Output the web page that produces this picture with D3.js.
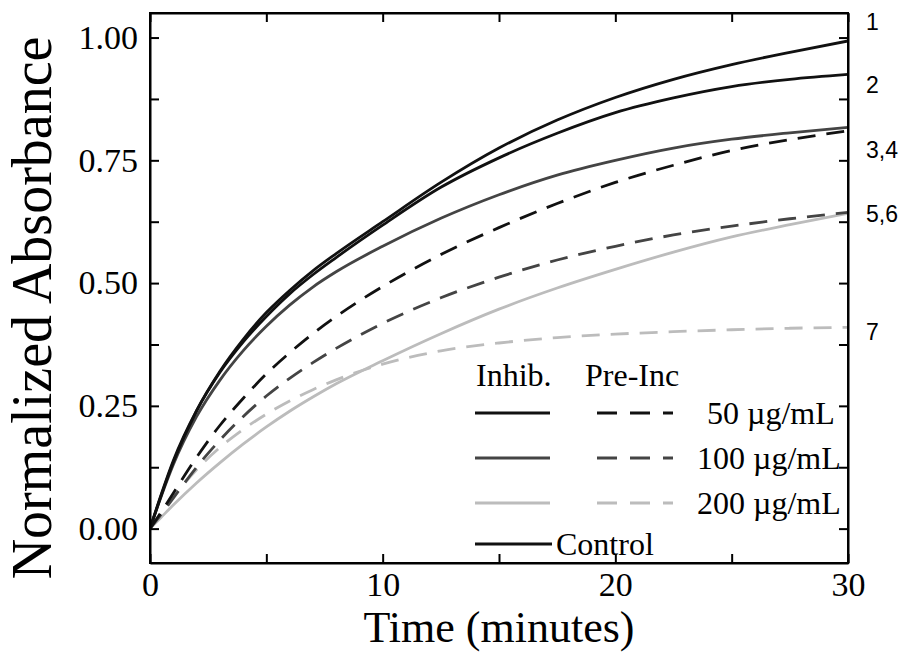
<!DOCTYPE html>
<html>
<head>
<meta charset="utf-8">
<script src="https://cdn.jsdelivr.net/npm/d3@7"></script>
<style>
  html, body { margin: 0; padding: 0; background: #fff; }
  svg { display: block; }
</style>
</head>
<body>
<svg id="chart" width="914" height="664"></svg>
<script>
// Sampling times (minutes)
const timeMin = [0, 0.5, 1, 2, 3, 4, 5, 6, 7, 8, 10, 12.5, 15, 17.5, 20, 22.5, 25, 27.5, 30];

// Normalized absorbance for each condition
const control   = [0, 0.07, 0.135, 0.24, 0.32, 0.385, 0.44, 0.485, 0.525, 0.56, 0.625, 0.705, 0.775, 0.832, 0.878, 0.915, 0.945, 0.97, 0.993];
const inhib50   = [0, 0.072, 0.138, 0.24, 0.318, 0.38, 0.432, 0.478, 0.517, 0.552, 0.618, 0.695, 0.755, 0.805, 0.847, 0.877, 0.90, 0.915, 0.925];
const inhib100  = [0, 0.068, 0.13, 0.228, 0.302, 0.362, 0.412, 0.455, 0.492, 0.523, 0.575, 0.632, 0.68, 0.72, 0.75, 0.775, 0.793, 0.806, 0.817];
const preInc50  = [0, 0.035, 0.072, 0.145, 0.21, 0.265, 0.315, 0.358, 0.397, 0.432, 0.493, 0.558, 0.613, 0.662, 0.705, 0.74, 0.77, 0.792, 0.81];
const preInc100 = [0, 0.03, 0.062, 0.125, 0.18, 0.228, 0.27, 0.306, 0.338, 0.367, 0.418, 0.47, 0.512, 0.547, 0.575, 0.598, 0.616, 0.631, 0.644];
const inhib200  = [0, 0.024, 0.048, 0.093, 0.134, 0.172, 0.207, 0.239, 0.268, 0.295, 0.342, 0.397, 0.447, 0.49, 0.528, 0.563, 0.594, 0.619, 0.642];
const preInc200 = [0, 0.033, 0.064, 0.12, 0.165, 0.202, 0.233, 0.26, 0.283, 0.303, 0.335, 0.362, 0.378, 0.389, 0.396, 0.401, 0.405, 0.408, 0.41];

// Axis ticks
const xTickValues = [0, 5, 10, 15, 20, 25, 30];
const xTickLabels = ["0", "", "10", "", "20", "", "30"];
const yTickValues = [0, 0.125, 0.25, 0.375, 0.5, 0.625, 0.75, 0.875, 1.0];
const yTickLabels = ["0.00", "", "0.25", "", "0.50", "", "0.75", "", "1.00"];

// Curve numbers shown at the right edge
const curveNumbers = ["1", "2", "3,4", "5,6", "7"];
const curveNumberY = [22, 85, 150, 214, 332];

// Legend rows
const concLabels = ["50 \u00b5g/mL", "100 \u00b5g/mL", "200 \u00b5g/mL"];
const concLabelX = [707, 697, 697];

const BLACK = "#111111", DARK = "#444444", LIGHT = "#bcbcbc";
const DASH = "18,11";

const series = [
  { values: preInc200, color: LIGHT, dashed: true },
  { values: inhib200,  color: LIGHT, dashed: false },
  { values: preInc100, color: DARK,  dashed: true },
  { values: inhib100,  color: DARK,  dashed: false },
  { values: preInc50,  color: BLACK, dashed: true },
  { values: inhib50,   color: BLACK, dashed: false },
  { values: control,   color: BLACK, dashed: false }
];

const svg = d3.select("#chart");
const plotLeft = 150, plotRight = 848, plotTop = 13, plotBottom = 563;

const x = d3.scaleLinear().domain([0, 30]).range([plotLeft, plotRight]);
const y = d3.scaleLinear().domain([-0.07, 1.05]).range([plotBottom, plotTop]);

const serif = "'Liberation Serif', 'Times New Roman', serif";
const sans = "'Liberation Sans', Arial, sans-serif";

// Curves, clipped to the plot frame
svg.append("clipPath").attr("id", "plotClip")
  .append("rect").attr("x", plotLeft).attr("y", plotTop)
  .attr("width", plotRight - plotLeft).attr("height", plotBottom - plotTop);

const line = d3.line()
  .x((d, i) => x(timeMin[i]))
  .y(d => y(d))
  .curve(d3.curveMonotoneX);

svg.append("g").attr("clip-path", "url(#plotClip)")
  .selectAll("path").data(series).join("path")
  .attr("d", d => line(d.values))
  .attr("fill", "none")
  .attr("stroke", d => d.color)
  .attr("stroke-width", 2.8)
  .attr("stroke-dasharray", d => d.dashed ? DASH : null);

// Axes: ticks point inward on all four sides
const tickLen = 9;
function styleAxis(g) {
  g.selectAll("path.domain").attr("stroke", "#000").attr("stroke-width", 2);
  g.selectAll(".tick line").attr("stroke", "#000").attr("stroke-width", 2);
}

const xBottom = svg.append("g").attr("transform", `translate(0,${plotBottom})`)
  .call(d3.axisBottom(x).tickValues(xTickValues)
    .tickSizeInner(-tickLen).tickSizeOuter(0).tickPadding(9)
    .tickFormat((d, i) => xTickLabels[i]));
styleAxis(xBottom);
xBottom.selectAll("text").attr("font-family", serif).attr("font-size", 34).attr("fill", "#000");

const xTop = svg.append("g").attr("transform", `translate(0,${plotTop})`)
  .call(d3.axisTop(x).tickValues(xTickValues)
    .tickSizeInner(-tickLen).tickSizeOuter(0).tickFormat(""));
styleAxis(xTop);

const yLeft = svg.append("g").attr("transform", `translate(${plotLeft},0)`)
  .call(d3.axisLeft(y).tickValues(yTickValues)
    .tickSizeInner(-tickLen).tickSizeOuter(0).tickPadding(12)
    .tickFormat((d, i) => yTickLabels[i]));
styleAxis(yLeft);
yLeft.selectAll("text").attr("font-family", serif).attr("font-size", 34).attr("fill", "#000");

const yRight = svg.append("g").attr("transform", `translate(${plotRight},0)`)
  .call(d3.axisRight(y).tickValues(yTickValues)
    .tickSizeInner(-tickLen).tickSizeOuter(0).tickFormat(""));
styleAxis(yRight);

// Plot frame
svg.append("rect").attr("x", plotLeft).attr("y", plotTop)
  .attr("width", plotRight - plotLeft).attr("height", plotBottom - plotTop)
  .attr("fill", "none").attr("stroke", "#000").attr("stroke-width", 2);

// Axis titles
svg.append("text")
  .attr("x", (plotLeft + plotRight) / 2).attr("y", 642)
  .attr("text-anchor", "middle")
  .attr("font-family", serif).attr("font-size", 44)
  .text("Time (minutes)");

svg.append("text")
  .attr("transform", `translate(51,${308}) rotate(-90)`)
  .attr("text-anchor", "middle")
  .attr("font-family", serif).attr("font-size", 56)
  .text("Normalized Absorbance");

// Curve numbers
svg.selectAll("text.curve-num").data(curveNumbers).join("text")
  .attr("class", "curve-num")
  .attr("x", 866).attr("y", (d, i) => curveNumberY[i])
  .attr("dy", "0.35em")
  .attr("font-family", sans).attr("font-size", 23)
  .text(d => d);

// Legend
const legend = svg.append("g").attr("font-family", serif).attr("font-size", 32);
legend.append("text").attr("x", 476).attr("y", 386).text("Inhib.");
legend.append("text").attr("x", 585).attr("y", 386).text("Pre-Inc");

const rowY = [413, 458, 503];
const rowColors = [BLACK, DARK, LIGHT];
rowY.forEach((ry, i) => {
  legend.append("line").attr("x1", 475).attr("x2", 550).attr("y1", ry).attr("y2", ry)
    .attr("stroke", rowColors[i]).attr("stroke-width", 3);
  legend.append("line").attr("x1", 597).attr("x2", 673).attr("y1", ry).attr("y2", ry)
    .attr("stroke", rowColors[i]).attr("stroke-width", 3).attr("stroke-dasharray", "20,13");
  legend.append("text").attr("x", concLabelX[i]).attr("y", ry + 11).text(concLabels[i]);
});
legend.append("line").attr("x1", 475).attr("x2", 552).attr("y1", 544).attr("y2", 544)
  .attr("stroke", BLACK).attr("stroke-width", 3);
legend.append("text").attr("x", 556).attr("y", 555).text("Control");
</script>
</body>
</html>
